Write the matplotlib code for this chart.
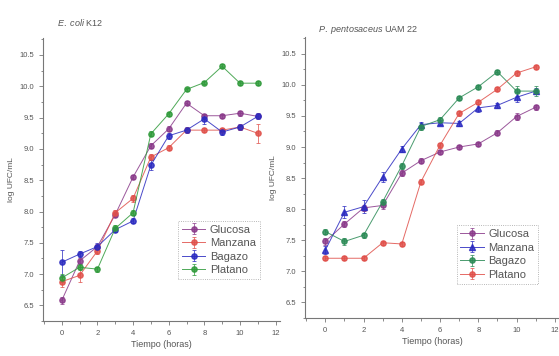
import matplotlib
matplotlib.use("Agg")
import matplotlib.pyplot as plt
from matplotlib.ticker import MultipleLocator

plt.rcParams['font.family'] = ['Liberation Sans', 'DejaVu Sans']
plt.rcParams['mathtext.fontset'] = 'custom'
plt.rcParams['mathtext.it'] = 'Liberation Sans:italic'
plt.rcParams['mathtext.rm'] = 'Liberation Sans'

hours = list(range(12))

# E. coli K12
ec_glucosa = [6.58, 7.21, 7.44, 7.95, 8.55, 9.05, 9.32, 9.73, 9.53, 9.53, 9.57, 9.52]
ec_manzana = [6.88, 6.98, 7.37, 7.98, 8.21, 8.87, 9.02, 9.30, 9.30, 9.30, 9.35, 9.25]
ec_bagazo = [7.19, 7.32, 7.44, 7.71, 7.85, 8.74, 9.21, 9.30, 9.48, 9.27, 9.35, 9.52]
ec_platano = [6.94, 7.11, 7.08, 7.73, 7.98, 9.24, 9.56, 9.95, 10.06, 10.32, 10.05, 10.05]
ec_err_glucosa = [0.05, 0.05, 0.04, 0.04, 0.03, 0.04, 0.04, 0.03, 0.03, 0.03, 0.04, 0.03]
ec_err_manzana = [0.08, 0.10, 0.05, 0.05, 0.05, 0.05, 0.04, 0.03, 0.03, 0.03, 0.04, 0.15]
ec_err_bagazo = [0.20, 0.05, 0.05, 0.04, 0.04, 0.08, 0.05, 0.05, 0.08, 0.05, 0.05, 0.05]
ec_err_platano = [0.06, 0.05, 0.04, 0.05, 0.04, 0.04, 0.03, 0.03, 0.03, 0.03, 0.03, 0.03]

# P. pentosaceus UAM 22
pp_glucosa = [7.48, 7.76, 8.02, 8.06, 8.58, 8.78, 8.92, 9.00, 9.05, 9.23, 9.49, 9.64]
pp_manzana = [7.34, 7.95, 8.04, 8.52, 8.97, 9.36, 9.39, 9.38, 9.63, 9.67, 9.80, 9.90]
pp_bagazo = [7.64, 7.48, 7.58, 8.12, 8.70, 9.33, 9.44, 9.79, 9.97, 10.21, 9.90, 9.90]
pp_platano = [7.21, 7.21, 7.21, 7.46, 7.44, 8.44, 9.03, 9.54, 9.72, 9.93, 10.19, 10.29]
pp_err_glucosa = [0.05, 0.05, 0.05, 0.06, 0.05, 0.04, 0.04, 0.03, 0.03, 0.04, 0.05, 0.04]
pp_err_manzana = [0.06, 0.10, 0.10, 0.08, 0.05, 0.05, 0.04, 0.04, 0.06, 0.04, 0.08, 0.05]
pp_err_bagazo = [0.04, 0.05, 0.04, 0.05, 0.05, 0.05, 0.04, 0.03, 0.03, 0.03, 0.08, 0.08]
pp_err_platano = [0.03, 0.03, 0.03, 0.03, 0.03, 0.04, 0.04, 0.04, 0.03, 0.03, 0.04, 0.03]

labels = ['Glucosa', 'Manzana', 'Bagazo', 'Platano']

PURPLE = '#8a3a8a'
RED = '#e0504a'
BLUE = '#2a2ac0'
GREEN = '#2f9a3a'
GREEN2 = '#2a8a55'
TXT = '#555555'
SP = '#777777'

fig = plt.figure(figsize=(5.59, 3.56), dpi=100)
axL = fig.add_axes([0.077, 0.098, 0.424, 0.795])
axR = fig.add_axes([0.546, 0.107, 0.455, 0.789])


def style(ax):
    ax.set_xlim(-1.05, 12.25)
    ax.set_ylim(6.25, 10.77)
    for s in ['top', 'right']:
        ax.spines[s].set_visible(False)
    for s in ['left', 'bottom']:
        ax.spines[s].set_color(SP)
        ax.spines[s].set_linewidth(0.8)
    ax.xaxis.set_major_locator(MultipleLocator(2))
    ax.xaxis.set_minor_locator(MultipleLocator(1))
    ax.yaxis.set_major_locator(MultipleLocator(0.5))
    ax.yaxis.set_minor_locator(MultipleLocator(0.25))
    ax.tick_params(which='both', direction='out', colors=SP, labelcolor=TXT, labelsize=5.5, width=0.6)
    ax.tick_params(which='major', length=3)
    ax.tick_params(which='minor', length=1.8)
    ax.set_yticks([6.5, 7.0, 7.5, 8.0, 8.5, 9.0, 9.5, 10.0, 10.5])
    ax.set_yticklabels(['6.5', '7.0', '7.5', '8.0', '8.5', '9.0', '9.5', '10.0', '10.5'])
    ax.set_xticks([0, 2, 4, 6, 8, 10, 12])
    ax.set_ylabel('log UFC/mL', fontsize=6, color=TXT, labelpad=3)
    ax.set_xlabel('Tiempo (horas)', fontsize=6.5, color=TXT, labelpad=2)


def plot_series(ax, y, err, color, marker, label, ms=3.8):
    ax.errorbar(hours, y, yerr=err, color=color, marker=marker, ms=ms, lw=0.7,
                elinewidth=0.6, capsize=1.2, capthick=0.6, mec=color, mfc=color,
                alpha=0.85, label=label)


def legend(ax, anchor):
    leg = ax.legend(loc='upper left', bbox_to_anchor=anchor, fontsize=8, frameon=True,
                    fancybox=False, handlelength=2.1, handletextpad=0.4, borderpad=0.35,
                    labelspacing=0.32, labelcolor=TXT, borderaxespad=0)
    leg.get_frame().set_edgecolor('#888888')
    leg.get_frame().set_linewidth(0.6)
    leg.get_frame().set_linestyle(':')


style(axL)
plot_series(axL, ec_glucosa, ec_err_glucosa, PURPLE, 'o', labels[0])
plot_series(axL, ec_manzana, ec_err_manzana, RED, 'o', labels[1])
plot_series(axL, ec_bagazo, ec_err_bagazo, BLUE, 'o', labels[2])
plot_series(axL, ec_platano, ec_err_platano, GREEN, 'o', labels[3])
legend(axL, (0.57, 0.355))

style(axR)
plot_series(axR, pp_glucosa, pp_err_glucosa, PURPLE, 'o', labels[0])
plot_series(axR, pp_manzana, pp_err_manzana, BLUE, '^', labels[1], ms=4.2)
plot_series(axR, pp_bagazo, pp_err_bagazo, GREEN2, 'o', labels[2])
plot_series(axR, pp_platano, pp_err_platano, RED, 'o', labels[3])
legend(axR, (0.595, 0.33))

fig.text(57 / 559, 1 - 22 / 356, r'$\it{E.\ coli}$ K12', fontsize=6.5, color=TXT, va='center', ha='left')
fig.text(318 / 559, 1 - 30 / 356, r'$\it{P.\ pentosaceus}$ UAM 22', fontsize=6.5, color=TXT, va='center', ha='left')

fig.savefig('out.png', dpi=100)
